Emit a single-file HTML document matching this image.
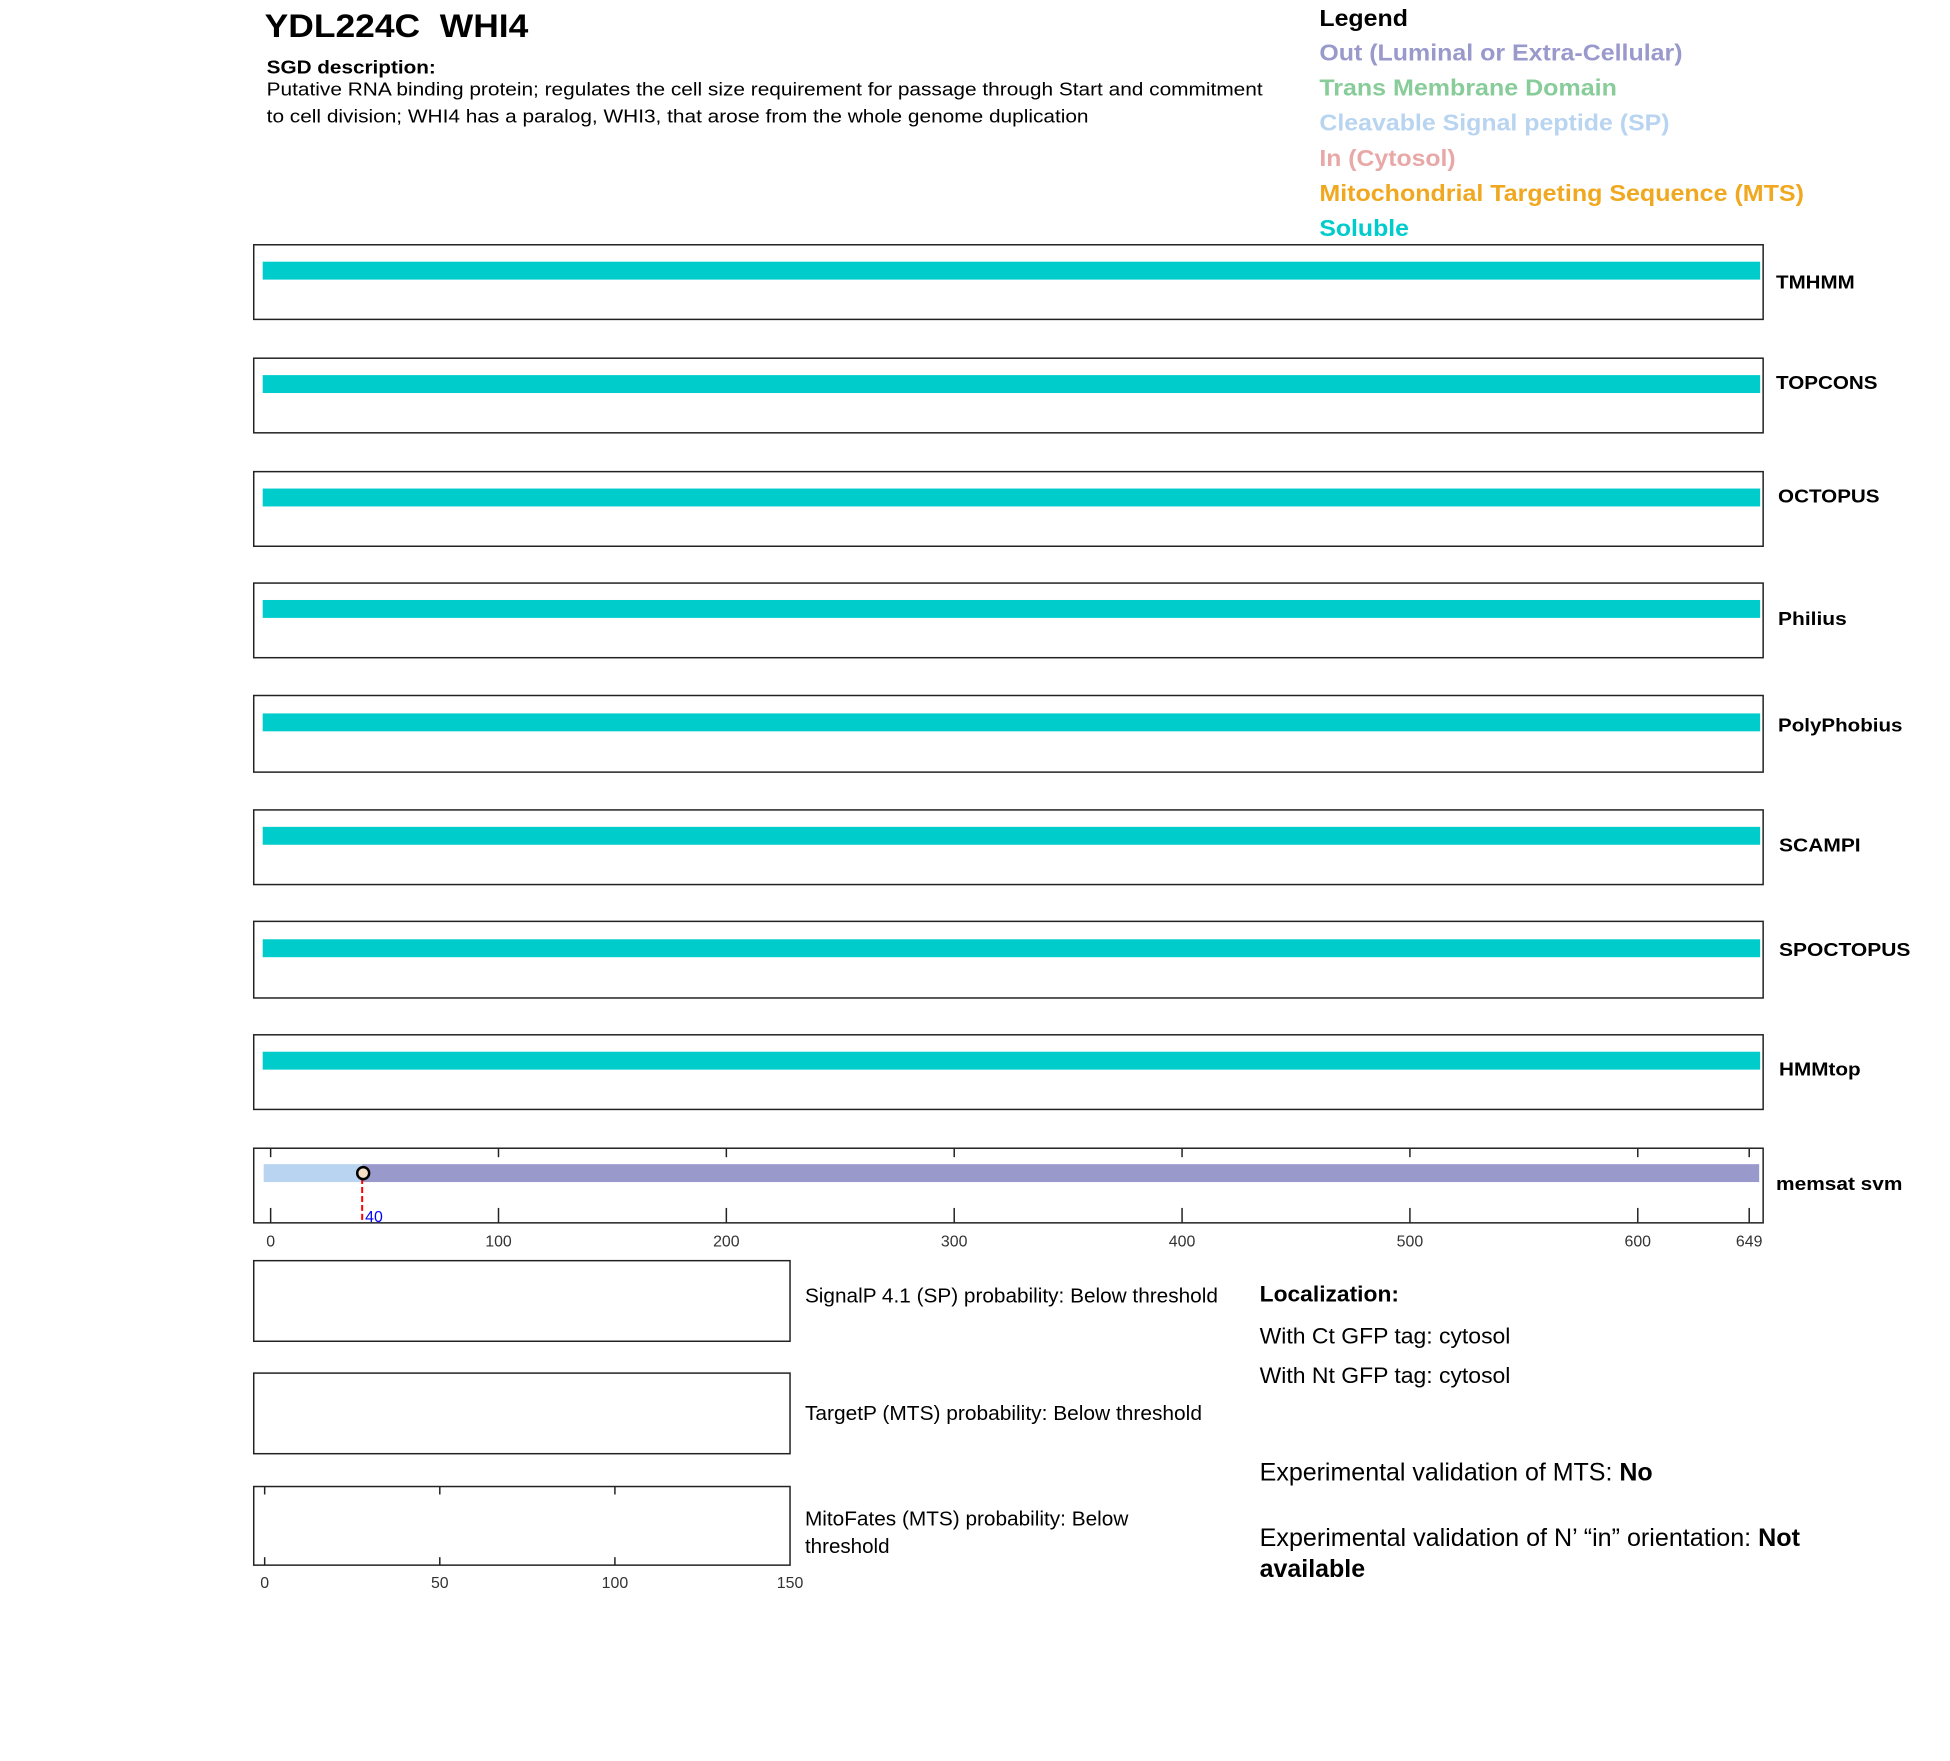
<!DOCTYPE html>
<html><head><meta charset="utf-8"><style>body{margin:0;background:#fff}svg{display:block}</style></head>
<body>
<svg width="1950" height="1761" viewBox="0 0 1950 1761" xmlns="http://www.w3.org/2000/svg" font-family="'Liberation Sans', sans-serif">
<rect width="1950" height="1761" fill="#fff"/>
<g transform="scale(0.995)">
<g fill="#000">
<text x="266" y="37" font-size="33" font-weight="bold" textLength="265" lengthAdjust="spacingAndGlyphs">YDL224C&#160; WHI4</text>
<text x="268" y="74" font-size="19" font-weight="bold" textLength="170" lengthAdjust="spacingAndGlyphs">SGD description:</text>
<text x="268" y="96" font-size="19" textLength="1001" lengthAdjust="spacingAndGlyphs">Putative RNA binding protein; regulates the cell size requirement for passage through Start and commitment</text>
<text x="268" y="123" font-size="19" textLength="826" lengthAdjust="spacingAndGlyphs">to cell division; WHI4 has a paralog, WHI3, that arose from the whole genome duplication</text>
</g>
<g font-size="23" font-weight="bold">
<text x="1326" y="26" fill="#000" textLength="89" lengthAdjust="spacingAndGlyphs">Legend</text>
<text x="1326" y="61" fill="#9999cc" textLength="365" lengthAdjust="spacingAndGlyphs">Out (Luminal or Extra-Cellular)</text>
<text x="1326" y="96" fill="#88cc99" textLength="299" lengthAdjust="spacingAndGlyphs">Trans Membrane Domain</text>
<text x="1326" y="131" fill="#b8d4f0" textLength="352" lengthAdjust="spacingAndGlyphs">Cleavable Signal peptide (SP)</text>
<text x="1326" y="167" fill="#e8a8a8" textLength="137" lengthAdjust="spacingAndGlyphs">In (Cytosol)</text>
<text x="1326" y="202" fill="#f0a820" textLength="487" lengthAdjust="spacingAndGlyphs">Mitochondrial Targeting Sequence (MTS)</text>
<text x="1326" y="237" fill="#00cccc" textLength="90" lengthAdjust="spacingAndGlyphs">Soluble</text>
</g>
<g stroke="#222" stroke-width="1.5" fill="none">
<rect x="255" y="246" width="1517" height="75"/>
<rect x="255" y="360" width="1517" height="75"/>
<rect x="255" y="474" width="1517" height="75"/>
<rect x="255" y="586" width="1517" height="75"/>
<rect x="255" y="699" width="1517" height="77"/>
<rect x="255" y="814" width="1517" height="75"/>
<rect x="255" y="926" width="1517" height="77"/>
<rect x="255" y="1040" width="1517" height="75"/>
<rect x="255" y="1154" width="1517" height="75"/>
<rect x="255" y="1267" width="539" height="81"/>
<rect x="255" y="1380" width="539" height="81"/>
<rect x="255" y="1494" width="539" height="79"/>
</g>
<g fill="#00cccc">
<rect x="264" y="263" width="1505" height="18"/>
<rect x="264" y="377" width="1505" height="18"/>
<rect x="264" y="491" width="1505" height="18"/>
<rect x="264" y="603" width="1505" height="18"/>
<rect x="264" y="717" width="1505" height="18"/>
<rect x="264" y="831" width="1505" height="18"/>
<rect x="264" y="944" width="1505" height="18"/>
<rect x="264" y="1057" width="1505" height="18"/>
</g>
<g font-size="19" font-weight="bold" fill="#000">
<text x="1785" y="290" textLength="79" lengthAdjust="spacingAndGlyphs">TMHMM</text>
<text x="1785" y="391" textLength="102" lengthAdjust="spacingAndGlyphs">TOPCONS</text>
<text x="1787" y="505" textLength="102" lengthAdjust="spacingAndGlyphs">OCTOPUS</text>
<text x="1787" y="628" textLength="69" lengthAdjust="spacingAndGlyphs">Philius</text>
<text x="1787" y="735" textLength="125" lengthAdjust="spacingAndGlyphs">PolyPhobius</text>
<text x="1788" y="856" textLength="82" lengthAdjust="spacingAndGlyphs">SCAMPI</text>
<text x="1788" y="961" textLength="132" lengthAdjust="spacingAndGlyphs">SPOCTOPUS</text>
<text x="1788" y="1081" textLength="82" lengthAdjust="spacingAndGlyphs">HMMtop</text>
<text x="1785" y="1196" textLength="127" lengthAdjust="spacingAndGlyphs">memsat svm</text>
</g>
<rect x="265" y="1170" width="99" height="18" fill="#b8d4f0"/>
<rect x="364" y="1170" width="1404" height="18" fill="#9999cc"/>
<g stroke="#222" stroke-width="1.5">
<line x1="272" y1="1154" x2="272" y2="1163"/><line x1="272" y1="1214" x2="272" y2="1229"/>
<line x1="501" y1="1154" x2="501" y2="1163"/><line x1="501" y1="1214" x2="501" y2="1229"/>
<line x1="730" y1="1154" x2="730" y2="1163"/><line x1="730" y1="1214" x2="730" y2="1229"/>
<line x1="959" y1="1154" x2="959" y2="1163"/><line x1="959" y1="1214" x2="959" y2="1229"/>
<line x1="1188" y1="1154" x2="1188" y2="1163"/><line x1="1188" y1="1214" x2="1188" y2="1229"/>
<line x1="1417" y1="1154" x2="1417" y2="1163"/><line x1="1417" y1="1214" x2="1417" y2="1229"/>
<line x1="1646" y1="1154" x2="1646" y2="1163"/><line x1="1646" y1="1214" x2="1646" y2="1229"/>
<line x1="1758" y1="1154" x2="1758" y2="1163"/><line x1="1758" y1="1214" x2="1758" y2="1229"/>
</g>
<line x1="364" y1="1184" x2="364" y2="1229" stroke="#f00" stroke-width="2" stroke-dasharray="6,3"/>
<circle cx="365" cy="1179" r="6" fill="#f8e0c8" stroke="#000" stroke-width="2.5"/>
<text x="367" y="1228" font-size="16" fill="#00f">40</text>
<g font-size="16" fill="#333" text-anchor="middle">
<text x="272" y="1253">0</text><text x="501" y="1253">100</text><text x="730" y="1253">200</text>
<text x="959" y="1253">300</text><text x="1188" y="1253">400</text><text x="1417" y="1253">500</text>
<text x="1646" y="1253">600</text><text x="1758" y="1253">649</text>
</g>
<g stroke="#222" stroke-width="1.5">
<line x1="266" y1="1494" x2="266" y2="1502"/><line x1="266" y1="1565" x2="266" y2="1573"/>
<line x1="442" y1="1494" x2="442" y2="1502"/><line x1="442" y1="1565" x2="442" y2="1573"/>
<line x1="618" y1="1494" x2="618" y2="1502"/><line x1="618" y1="1565" x2="618" y2="1573"/>
</g>
<g font-size="16" fill="#333" text-anchor="middle">
<text x="266" y="1596">0</text><text x="442" y="1596">50</text><text x="618" y="1596">100</text><text x="794" y="1596">150</text>
</g>
<g font-size="20" fill="#000">
<text x="809" y="1309" textLength="415" lengthAdjust="spacingAndGlyphs">SignalP 4.1 (SP) probability: Below threshold</text>
<text x="809" y="1427" textLength="399" lengthAdjust="spacingAndGlyphs">TargetP (MTS) probability: Below threshold</text>
<text x="809" y="1533" textLength="325" lengthAdjust="spacingAndGlyphs">MitoFates (MTS) probability: Below</text>
<text x="809" y="1561" textLength="85" lengthAdjust="spacingAndGlyphs">threshold</text>
<text x="1266" y="1308" font-size="22" font-weight="bold" textLength="140" lengthAdjust="spacingAndGlyphs">Localization:</text>
<text x="1266" y="1350" font-size="22" textLength="252" lengthAdjust="spacingAndGlyphs">With Ct GFP tag: cytosol</text>
<text x="1266" y="1390" font-size="22" textLength="252" lengthAdjust="spacingAndGlyphs">With Nt GFP tag: cytosol</text>
<text x="1266" y="1488" font-size="25" textLength="395" lengthAdjust="spacingAndGlyphs">Experimental validation of MTS: <tspan font-weight="bold">No</tspan></text>
<text x="1266" y="1554" font-size="25" textLength="543" lengthAdjust="spacingAndGlyphs">Experimental validation of N’ “in” orientation: <tspan font-weight="bold">Not</tspan></text>
<text x="1266" y="1585" font-size="25" font-weight="bold" textLength="106" lengthAdjust="spacingAndGlyphs">available</text>
</g>
</g>
</svg>
</body></html>
